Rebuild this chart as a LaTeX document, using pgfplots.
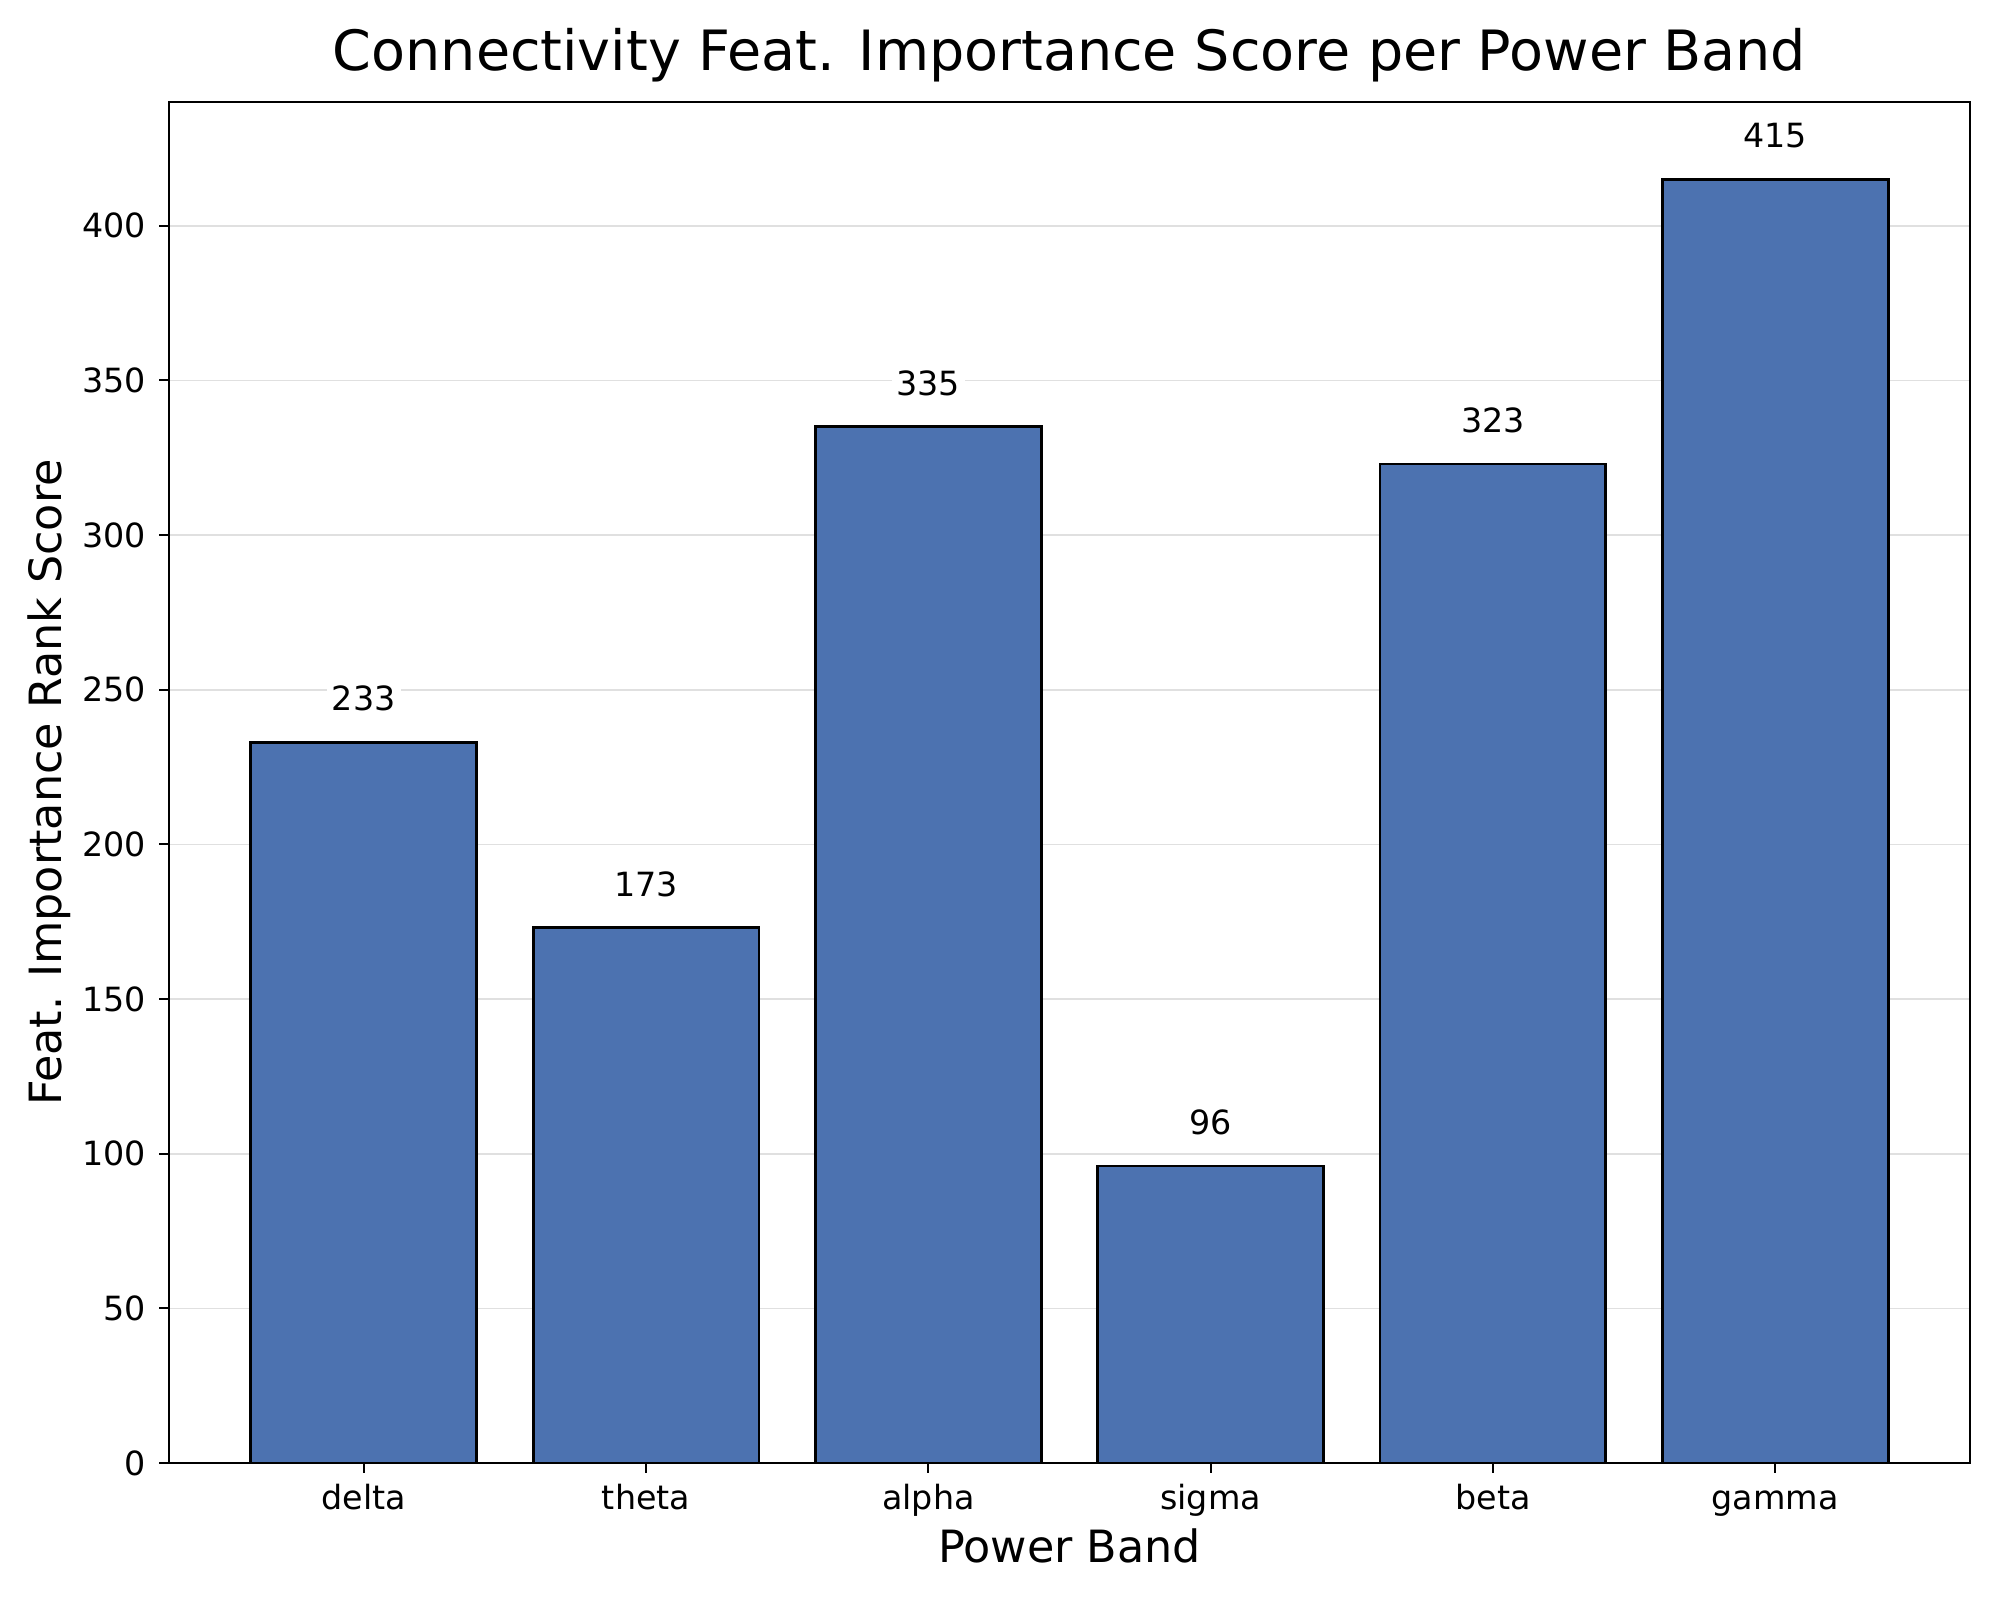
\documentclass[border=0pt]{standalone}
\usepackage{fontspec}
\setmainfont{DejaVu Sans}
\usepackage{pgfplots}
\pgfplotsset{compat=1.18}
\definecolor{barblue}{RGB}{76,114,176}
\definecolor{gridgray}{RGB}{224,224,224}
\begin{document}
\begin{tikzpicture}
\path[use as bounding box] (-60.84pt,-49.32pt) rectangle (659.16pt,526.68pt);
\begin{axis}[
  at={(0,0)}, anchor=south west,
  scale only axis,
  width=648.36pt, height=489.96pt,
  xmin=-0.69, xmax=5.69, ymin=0, ymax=440,
  xtick={0,...,5},
  xticklabels={delta,theta,alpha,sigma,beta,gamma},
  ytick={0,50,...,400},
  /pgf/number format/assume math mode=true,
  tick align=outside,
  major tick length=3.5pt,
  xtick pos=bottom, ytick pos=left,
  tick style={black, line width=0.8pt},
  axis line style={black, line width=0.8pt},
  ymajorgrids,
  major grid style={gridgray, line width=0.6pt},
  tick label style={font=\fontsize{12}{14}\selectfont},
  xticklabel style={anchor=base, inner sep=0pt, yshift=-13.4pt},
  yticklabel style={anchor=east, inner sep=0pt, xshift=-4.6pt},
  title={Connectivity Feat. Importance Score per Power Band},
  title style={at={(axis description cs:0.5,1.01098)}, anchor=base, yshift=0pt, inner sep=0pt, font=\fontsize{20}{24}\selectfont},
  xlabel={Power Band},
  ylabel={Feat. Importance Rank Score},
  xlabel style={at={(axis description cs:0.5,-0.07274)}, anchor=base, inner sep=0pt, font=\fontsize{16}{19}\selectfont},
  ylabel style={at={(axis description cs:-0.0597,0.5)}, anchor=base, inner sep=0pt, rotate=0, font=\fontsize{16}{19}\selectfont},
]
\addplot[ybar, bar width=0.8, fill=barblue, draw=black, line width=1pt,
  nodes near coords,
  every node near coord/.append style={font=\fontsize{12}{14}\selectfont, fill=white, inner sep=1.8pt, anchor=base, yshift=11.4pt, text=black}]
  coordinates {(0,233) (1,173) (2,335) (3,96) (4,323) (5,415)};
\end{axis}
\end{tikzpicture}
\end{document}
